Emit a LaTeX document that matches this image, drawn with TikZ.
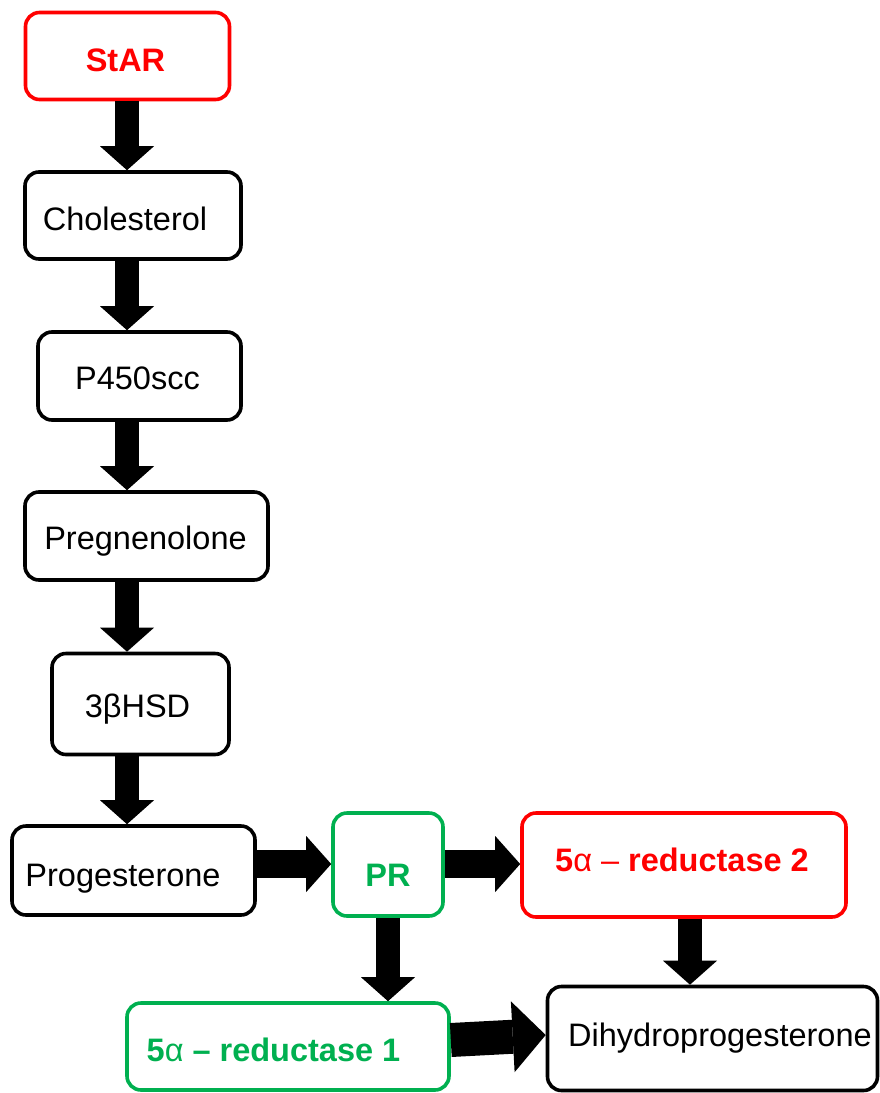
\documentclass[tikz,border=0pt]{standalone}
\usepackage{fontspec}
\setmainfont{Liberation Sans}
\usetikzlibrary{arrows.meta}
\definecolor{boxred}{RGB}{255,0,0}
\definecolor{boxgreen}{RGB}{0,176,80}
% shift a label inside its box: #1 = twice the horizontal shift, #2 = vertical shift
\newcommand\shtxt[3]{\hspace*{#1}\raisebox{#2}{#3}}
\begin{document}
\begin{tikzpicture}[x=1pt,y=-1pt,
  box/.style={draw=black, line width=3.6pt, rounded corners=14pt, fill=white,
    inner sep=0pt, text height=23pt, text depth=0pt,
    font=\fontsize{32.5}{36}\selectfont},
  redbox/.style={box, draw=boxred, text=boxred, font=\fontsize{32.5}{36}\selectfont\bfseries},
  greenbox/.style={box, draw=boxgreen, text=boxgreen, font=\fontsize{32.5}{36}\selectfont\bfseries},
  vflow/.style={draw=black, line width=24pt,
    -{Triangle[length=24pt,width=54pt,line width=0pt]}},
  hflow/.style={draw=black, line width=28pt,
    -{Triangle[length=25pt,width=56pt,line width=0pt]}},
  bigflow/.style={draw=black, line width=34pt,
    -{Triangle[length=33pt,width=71pt,line width=0pt]}}
]
\useasboundingbox (0,0) rectangle (879,1093);

\node[redbox, minimum width=204pt, minimum height=87pt] (star) at (127.5,56) {\shtxt{-4pt}{-4pt}{StAR}};
\node[box, minimum width=216pt, minimum height=87pt] (chol) at (133,215.5) {\shtxt{-16pt}{-3pt}{Cholesterol}};
\node[box, minimum width=203pt, minimum height=88pt] (p450) at (139.5,376) {\shtxt{-4pt}{-2pt}{P450scc}};
\node[box, minimum width=243pt, minimum height=88pt] (preg) at (146.5,536) {\shtxt{-2pt}{-2pt}{Pregnenolone}};
\node[box, minimum width=177pt, minimum height=101pt] (hsd) at (140.5,704) {\shtxt{-6pt}{-2pt}{3βHSD}};
\node[box, minimum width=243pt, minimum height=89pt] (prog) at (133.5,870.5) {\shtxt{-21pt}{-4pt}{Progesterone}};
\node[greenbox, minimum width=110pt, minimum height=103pt] (pr) at (388,864.5) {\shtxt{0pt}{-10pt}{PR}};
\node[redbox, minimum width=324pt, minimum height=104pt] (r2) at (684,865) {\shtxt{-4pt}{5pt}{5{\mdseries α – }reductase 2}};
\node[greenbox, minimum width=322pt, minimum height=87pt] (r1) at (288,1046.5) {\shtxt{-29pt}{-3.5pt}{5{\mdseries α} – reductase 1}};
\node[box, minimum width=330pt, minimum height=104pt] (dhp) at (712.5,1038.5) {\shtxt{15pt}{3.5pt}{Dihydroprogesterone}};

\coordinate (ax) at (127,0);
\coordinate (ay) at (0,864);
\coordinate (bx) at (690,0);

\draw[vflow] (ax |- star.south) -- (ax |- chol.north);
\draw[vflow] (ax |- chol.south) -- (ax |- p450.north);
\draw[vflow] (ax |- p450.south) -- (ax |- preg.north);
\draw[vflow] (ax |- preg.south) -- (ax |- hsd.north);
\draw[vflow] (ax |- hsd.south) -- (ax |- prog.north);
\draw[hflow] (prog.east |- ay) -- (pr.west |- ay);
\draw[hflow] (pr.east |- ay) -- (r2.west |- ay);
\draw[vflow] (pr.south) -- (pr.south |- r1.north);
\draw[vflow] (bx |- r2.south) -- (bx |- dhp.north);
\draw[bigflow] ([yshift=6.5pt]r1.east) -- ([yshift=3.5pt]dhp.west);
\end{tikzpicture}
\end{document}
